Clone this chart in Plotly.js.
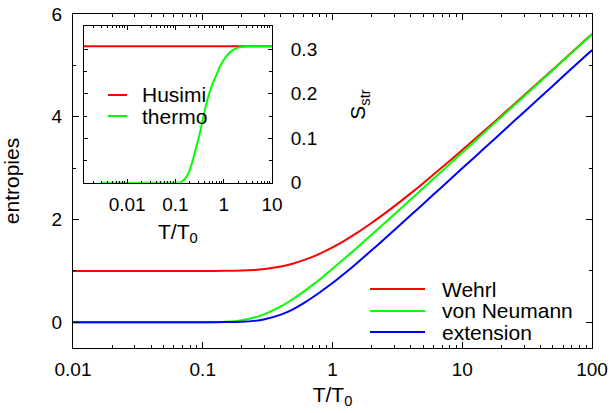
<!DOCTYPE html>
<html><head><meta charset="utf-8">
<script src="https://cdn.plot.ly/plotly-3.0.1.min.js"></script>
<style>html,body{margin:0;padding:0;background:#fff}</style>
</head><body><div id="chart" style="width:611px;height:413px"></div>
<script>
// main panel: temperature T/T0 and the three entropies
const T = [0.01, 0.05, 0.1, 0.15, 0.2, 0.25, 0.3, 0.4, 0.5, 0.6, 0.7, 0.8, 1, 1.25, 1.5, 2, 2.5, 3, 4, 5, 7, 10, 15, 20, 30, 50, 70, 100];
const wehrl = [1, 1, 1.0000, 1.0013, 1.0068, 1.0185, 1.0363, 1.0857, 1.1454, 1.2093, 1.2740, 1.3377, 1.4587, 1.5966, 1.7204, 1.9328, 2.1096, 2.2606, 2.5087, 2.7078, 3.0165, 3.3522, 3.7413, 4.0206, 4.4177, 4.9219, 5.2557, 5.6102];
const vonNeumann = [0, 0, 0.0005, 0.0098, 0.0407, 0.0931, 0.1596, 0.3092, 0.4585, 0.5974, 0.7243, 0.8396, 1.0407, 1.2494, 1.4238, 1.7035, 1.9229, 2.1032, 2.3889, 2.6111, 2.9468, 3.3030, 3.7083, 3.9958, 4.4012, 4.9120, 5.2485, 5.6052];
const extension = [0, 0, 0.0005, 0.0038, 0.0107, 0.028, 0.060, 0.149, 0.258, 0.372, 0.482, 0.585, 0.764, 0.959, 1.127, 1.400, 1.617, 1.796, 2.082, 2.304, 2.640, 2.996, 3.401, 3.689, 4.094, 4.605, 4.942, 5.298];
const mainNames = ['Wehrl', 'von Neumann', 'extension'];
// inset: S_str
const husimiT = [0.001, 10];
const husimi = [0.307, 0.307];
const thermoT = [0.003, 0.01, 0.05, 0.1, 0.13, 0.17, 0.2, 0.23, 0.27, 0.32, 0.4, 0.5, 0.6, 0.71, 0.85, 1.06, 1.3, 1.57, 2, 2.5, 3.5, 5, 10];
const thermo = [0, 0, 0, 0, 0.001, 0.013, 0.03, 0.051, 0.08, 0.111, 0.16, 0.2, 0.225, 0.243, 0.263, 0.28, 0.292, 0.299, 0.304, 0.306, 0.307, 0.307, 0.307];
const insetNames = ['Husimi', 'thermo'];
const mainTicks = [0.01, 0.1, 1, 10, 100];
const mainTickText = ['0.01', '0.1', '1', '10', '100'];
const insetTicks = [0.01, 0.1, 1, 10];
const insetTickText = ['0.01', '0.1', '1', '10'];

const F = 'Liberation Sans, Arial, Helvetica, sans-serif';
const RED = '#ff0000', GREEN = '#00ff00', BLUE = '#0000ff';
const ln = (c) => ({color: c, width: 2, shape: 'spline', smoothing: 0.8});

const data = [
  {x: T, y: wehrl, name: mainNames[0], type: 'scatter', mode: 'lines', line: ln(RED), xaxis: 'x', yaxis: 'y'},
  {x: T, y: vonNeumann, name: mainNames[1], type: 'scatter', mode: 'lines', line: ln(GREEN), xaxis: 'x', yaxis: 'y'},
  {x: T, y: extension, name: mainNames[2], type: 'scatter', mode: 'lines', line: ln(BLUE), xaxis: 'x', yaxis: 'y'},
  {x: husimiT, y: husimi, name: insetNames[0], type: 'scatter', mode: 'lines', line: ln(RED), xaxis: 'x2', yaxis: 'y2'},
  {x: thermoT, y: thermo, name: insetNames[1], type: 'scatter', mode: 'lines', line: ln(GREEN), xaxis: 'x2', yaxis: 'y2'}
];

const axBase = {showline: true, linecolor: '#000', linewidth: 1, mirror: 'ticks', ticks: 'inside', tickcolor: '#000', showgrid: false, zeroline: false, tickfont: {family: F, size: 19, color: '#000'}};

// hand-drawn legends (key line in paper coords + text), gnuplot style
const shapes = [], annotations = [];
function legendBlock(names, colors, x0, x1, xt, ys, fs) {
  names.forEach((n, i) => {
    shapes.push({type: 'line', xref: 'paper', yref: 'paper', x0: x0, x1: x1, y0: ys[i], y1: ys[i], line: {color: colors[i], width: 2}});
    annotations.push({xref: 'paper', yref: 'paper', x: xt, y: ys[i], xanchor: 'left', yanchor: 'middle', text: n, showarrow: false, font: {family: F, size: fs, color: '#000'}});
  });
}
legendBlock(mainNames, [RED, GREEN, BLUE], 0.5723, 0.6782, 0.7071, [0.1766, 0.1108, 0.0479], 21);
legendBlock(insetNames, [RED, GREEN], 0.0674, 0.1040, 0.1291, [0.7575, 0.6946], 21);

const layout = {
  width: 611, height: 413,
  margin: {l: 73, r: 19, t: 14, b: 65},
  paper_bgcolor: '#fff', plot_bgcolor: '#fff',
  font: {family: F, size: 19, color: '#000'},
  showlegend: false,
  shapes: shapes, annotations: annotations,
  xaxis: Object.assign({}, axBase, {type: 'log', range: [-2, 2], domain: [0, 1], anchor: 'y', ticklen: 6,
    tickvals: mainTicks, ticktext: mainTickText, ticklabelstandoff: 4,
    minor: {dtick: 'D1', ticks: 'inside', ticklen: 3, tickcolor: '#000', showgrid: false},
    title: {text: 'T/T<sub>0</sub>', font: {family: F, size: 21}, standoff: 8}}),
  yaxis: Object.assign({}, axBase, {range: [-0.5, 6], domain: [0, 1], anchor: 'x', dtick: 2, tick0: 0, ticklen: 6,
    ticklabelstandoff: 6,
    minor: {dtick: 1, ticks: 'inside', ticklen: 3, tickcolor: '#000', showgrid: false},
    title: {text: 'entropies', font: {family: F, size: 21}, standoff: 28}}),
  xaxis2: Object.assign({}, axBase, {type: 'log', range: [-2.9, 1], domain: [0.0206, 0.3834], anchor: 'y2', ticklen: 4,
    tickvals: insetTicks, ticktext: insetTickText, ticklabelstandoff: 4,
    minor: {dtick: 'D1', ticks: 'inside', ticklen: 2, tickcolor: '#000', showgrid: false},
    title: {text: 'T/T<sub>0</sub>', font: {family: F, size: 21}, standoff: 10}}),
  yaxis2: Object.assign({}, axBase, {range: [0, 0.352], domain: [0.4949, 0.9632], anchor: 'x2', side: 'right', dtick: 0.1, tick0: 0, ticklen: 4,
    ticklabelstandoff: 14,
    minor: {dtick: 0.05, ticks: 'inside', ticklen: 3, tickcolor: '#000', showgrid: false},
    title: {text: 'S<sub>str</sub>', font: {family: F, size: 21}, standoff: 34}}),
  yaxis3: {range: [0, 0.352], domain: [0.4949, 0.9632], anchor: 'x2', overlaying: 'y2', side: 'left', showline: false, ticks: '', showgrid: false, zeroline: false,
    tickvals: [0], ticktext: ['0'], ticklabelstandoff: 12, tickfont: {family: F, size: 19, color: '#000'}}
};

Plotly.newPlot('chart', data, layout, {displayModeBar: false, staticPlot: true});
</script></body></html>
